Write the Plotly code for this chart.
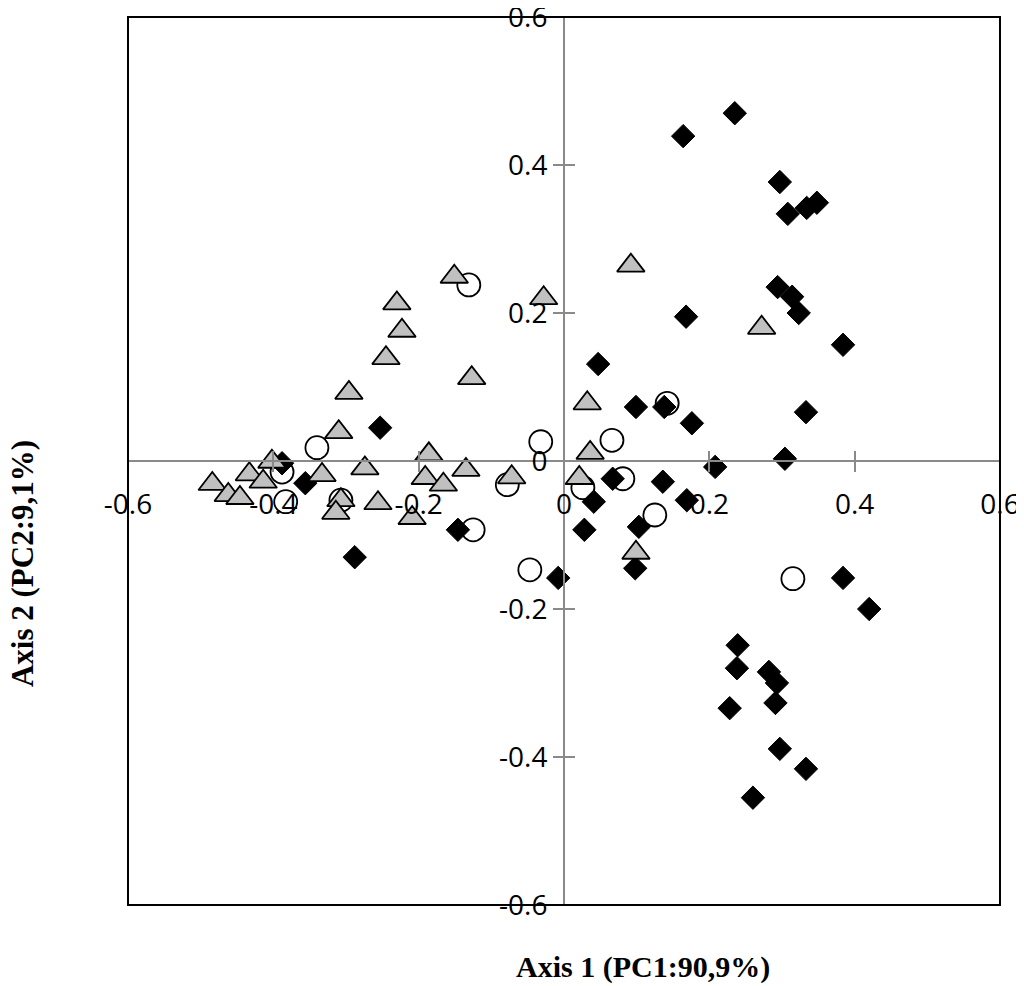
import plotly.graph_objects as go

# Black diamonds
dia_x = [0.235, 0.164, 0.297, 0.308, 0.334, 0.348, 0.294, 0.314, 0.323, 0.168, 0.384,
         0.333, 0.304, 0.208, 0.176, 0.138, 0.099, 0.047, 0.067, 0.136, 0.041, 0.169,
         0.028, 0.103, 0.098, -0.008, -0.253, -0.356, -0.146, -0.288, -0.388,
         0.384, 0.420, 0.239, 0.238, 0.282, 0.293, 0.291, 0.228, 0.297, 0.333, 0.260]
dia_y = [0.470, 0.439, 0.377, 0.334, 0.342, 0.349, 0.235, 0.222, 0.200, 0.195, 0.157,
         0.066, 0.003, -0.008, 0.051, 0.073, 0.073, 0.131, -0.024, -0.028, -0.055, -0.053,
         -0.093, -0.089, -0.145, -0.158, 0.045, -0.030, -0.093, -0.130, -0.003,
         -0.158, -0.200, -0.249, -0.280, -0.285, -0.300, -0.327, -0.334, -0.389, -0.416, -0.455]

# Open circles
cir_x = [-0.131, -0.340, -0.388, -0.383, -0.307, -0.125, -0.078, -0.032, 0.066,
         0.026, 0.081, 0.125, -0.047, 0.142, 0.315]
cir_y = [0.238, 0.018, -0.015, -0.055, -0.053, -0.093, -0.032, 0.026, 0.028,
         -0.036, -0.024, -0.073, -0.147, 0.078, -0.159]

# Grey triangles
tri_x = [-0.151, -0.230, -0.223, -0.245, -0.127, -0.296, -0.310, -0.402, -0.433, -0.484,
         -0.462, -0.446, -0.414, -0.333, -0.274, -0.307, -0.314, -0.256, -0.186, -0.191,
         -0.166, -0.135, -0.209, -0.072, -0.028, 0.092, 0.032, 0.036, 0.021, 0.099, 0.272]
tri_y = [0.249, 0.213, 0.176, 0.139, 0.112, 0.092, 0.039, -0.001, -0.018, -0.031,
         -0.046, -0.050, -0.028, -0.019, -0.010, -0.053, -0.070, -0.057, 0.009, -0.023,
         -0.032, -0.012, -0.077, -0.022, 0.220, 0.264, 0.078, 0.011, -0.023, -0.124, 0.180]

tick_vals = [-0.6, -0.4, -0.2, 0.0, 0.2, 0.4, 0.6]
tick_text = ["-0.6", "-0.4", "-0.2", "0", "0.2", "0.4", "0.6"]

x_title = "Axis 1 (PC1:90,9%)"
y_title = "Axis 2 (PC2:9,1%)"

GRAY = "#8a8a8a"
fig = go.Figure()

fig.add_trace(go.Scatter(x=cir_x, y=cir_y, mode="markers",
                         marker=dict(symbol="circle", size=23, color="white",
                                     line=dict(color="black", width=1.8)),
                         showlegend=False))
fig.add_trace(go.Scatter(x=dia_x, y=dia_y, mode="markers",
                         marker=dict(symbol="diamond", size=18, color="black",
                                     line=dict(color="black", width=1)),
                         showlegend=False))
fig.add_trace(go.Scatter(x=tri_x, y=tri_y, mode="markers",
                         marker=dict(symbol="triangle-up", size=24, color="#c0c0c0",
                                     line=dict(color="black", width=1.8)),
                         showlegend=False))
# empty trace so the overlay axes (inner half of the cross ticks) are drawn
fig.add_trace(go.Scatter(x=[None], y=[None], xaxis="x2", yaxis="y2", mode="markers",
                         showlegend=False, hoverinfo="skip"))

tick_font = dict(family="Open Sans", size=28, color="black")
common = dict(range=[-0.6, 0.6], tickvals=tick_vals, showgrid=False, zeroline=False,
              fixedrange=True, automargin=False)

fig.update_layout(
    width=1016, height=978,
    margin=dict(l=120, r=24, t=9, b=81),
    plot_bgcolor="white", paper_bgcolor="white",
    showlegend=False,
    xaxis=dict(**common, ticktext=tick_text, anchor="free", position=0.5,
               showline=True, linecolor=GRAY, linewidth=2,
               ticks="outside", ticklen=10, tickwidth=2, tickcolor=GRAY,
               tickfont=tick_font, ticklabelstandoff=8, ticklabeloverflow="allow",
               domain=[0, 1]),
    yaxis=dict(**common, ticktext=tick_text, anchor="free", position=0.5,
               showline=True, linecolor=GRAY, linewidth=2,
               ticks="outside", ticklen=10, tickwidth=2, tickcolor=GRAY,
               tickfont=tick_font, ticklabelstandoff=0, ticklabeloverflow="allow",
               domain=[0, 1]),
    xaxis2=dict(**common, overlaying="x", anchor="free", position=0.5,
                showline=False, ticks="inside", ticklen=10, tickwidth=2,
                tickcolor=GRAY, showticklabels=False),
    yaxis2=dict(**common, overlaying="y", anchor="free", position=0.5,
                showline=False, ticks="inside", ticklen=10, tickwidth=2,
                tickcolor=GRAY, showticklabels=False),
    shapes=[dict(type="rect", xref="paper", yref="paper", x0=0, x1=1, y0=0, y1=1,
                 line=dict(color="black", width=2), layer="above")],
    annotations=[
        dict(text="<b>" + x_title + "</b>", xref="paper", yref="paper",
             x=0.591, y=-0.070, xanchor="center", yanchor="middle", showarrow=False,
             font=dict(family="Liberation Serif", size=30, color="black")),
        dict(text="<b>" + y_title + "</b>", xref="paper", yref="paper",
             x=-0.1216, y=0.385, xanchor="center", yanchor="middle", showarrow=False,
             textangle=-90,
             font=dict(family="Liberation Serif", size=31, color="black")),
    ],
)

fig.write_html("out.html")
